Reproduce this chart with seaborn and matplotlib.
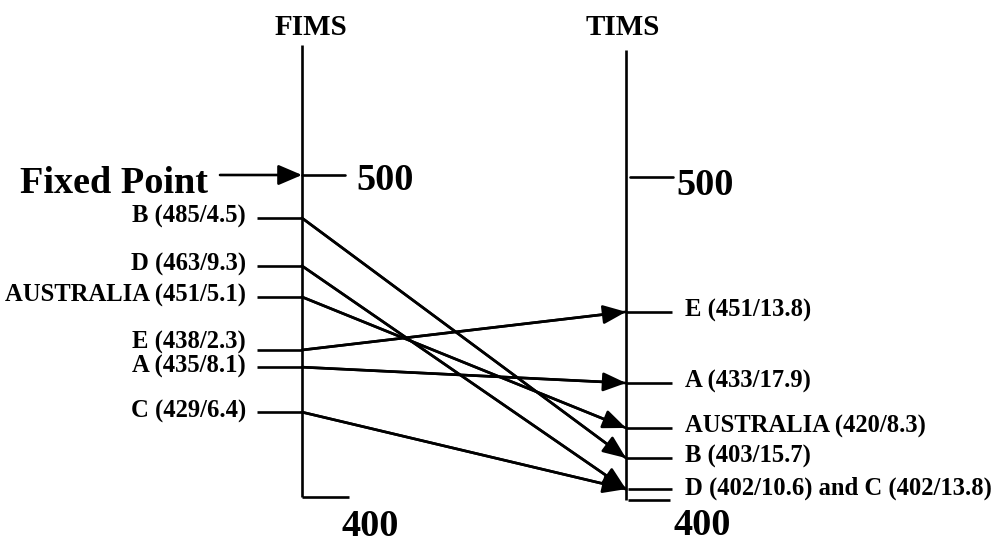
import numpy as np
import pandas as pd
import matplotlib
matplotlib.use("Agg")
import matplotlib.pyplot as plt
import seaborn as sns

# ---------------- data ----------------
countries = ["B", "D", "AUSTRALIA", "E", "A", "C"]
fims_score = [485, 463, 451, 438, 435, 429]
fims_se = [4.5, 9.3, 5.1, 2.3, 8.1, 6.4]
tims_score = [403, 402, 420, 451, 433, 402]
tims_se = [15.7, 10.6, 8.3, 13.8, 17.9, 13.8]
# vertical position of each country on the schematic scale
fims_level = [486.7, 471.9, 462.3, 445.9, 440.6, 426.7]
tims_level = [412.5, 402.9, 421.8, 457.7, 435.7, 402.9]
tests = ["FIMS", "TIMS"]
fixed_point = 500
scale_bottom = 400
fixed_label = "Fixed Point"

# ---------------- layout ----------------
sns.set_theme(style="white")
plt.rcParams["font.family"] = ["Liberation Serif", "DejaVu Serif"]

W, H = 1007, 542
fig = plt.figure(figsize=(W / 100, H / 100), dpi=100)
ax = fig.add_axes([0, 0, 1, 1])
PXX = 324.0   # pixels per x unit (FIMS axis at x=0, TIMS axis at x=1)
PXY = 3.235   # pixels per score unit
X0 = 302
ax.set_xlim(-X0 / PXX, (W - X0) / PXX)
ax.set_ylim(500 - (H - 175) / PXY, 500 + 175 / PXY)
ax.axis("off")


def pxx(px):
    return (px - X0) / PXX


def py(px):
    return 500 - (px - 175) / PXY


def dx(px):
    return px / PXX


def dy(px):
    return px / PXY


LW = 1.9
K = "black"
big = dict(fontsize=27.5, fontweight="bold", color=K)
mid = dict(fontsize=21, fontweight="bold", color=K)
small = dict(fontsize=17.7, fontweight="bold", color=K)

# connecting lines (seaborn)
df = pd.DataFrame({
    "country": countries * 2,
    "x": [0.0] * len(countries) + [1.0] * len(countries),
    "level": fims_level + tims_level,
})
sns.lineplot(data=df, x="x", y="level", units="country", estimator=None,
             color=K, lw=LW, ax=ax, legend=False, sort=False)
for fl, tl in zip(fims_level, tims_level):
    ax.annotate("", xy=(1.0, tl), xytext=(0.0, fl),
                arrowprops=dict(arrowstyle="-|>,head_length=1.4,head_width=0.58",
                                lw=LW, color=K, shrinkA=0, shrinkB=0,
                                mutation_scale=10))

# vertical scales
ax.plot([0, 0], [py(45), py(497)], color=K, lw=LW, solid_capstyle="butt")
ax.plot([0, dx(47)], [py(497), py(497)], color=K, lw=LW, solid_capstyle="butt")
ax.plot([1, 1], [py(50), py(500)], color=K, lw=LW, solid_capstyle="butt")
ax.plot([1 + dx(2), 1 + dx(44)], [py(500), py(500)], color=K, lw=LW, solid_capstyle="butt")

# fixed point
ax.annotate("", xy=(0, fixed_point), xytext=(pxx(220), fixed_point),
            arrowprops=dict(arrowstyle="-|>,head_length=1.45,head_width=0.62",
                            lw=LW, color=K, shrinkA=0, shrinkB=0, mutation_scale=10))
ax.plot([0, dx(43)], [fixed_point, fixed_point], color=K, lw=LW)
ax.plot([1 + dx(4), 1 + dx(47)], [fixed_point - dy(2), fixed_point - dy(2)], color=K, lw=LW)
ax.text(pxx(208), py(193), fixed_label, ha="right", va="baseline", **big)
ax.text(pxx(356), py(190), str(fixed_point), ha="left", va="baseline", **big)
ax.text(pxx(676), py(195), str(fixed_point), ha="left", va="baseline", **big)
ax.text(pxx(341), py(536), str(scale_bottom), ha="left", va="baseline", **big)
ax.text(pxx(674), py(535), str(scale_bottom), ha="left", va="baseline", **big)

# titles
ax.text(pxx(311), py(35), tests[0], ha="center", va="baseline", **mid)
ax.text(pxx(623), py(35), tests[1], ha="center", va="baseline", **mid)

# left labels and ticks
for i, (c, s, e, lv) in enumerate(zip(countries, fims_score, fims_se, fims_level)):
    ax.plot([-dx(45), 0], [lv, lv], color=K, lw=LW, solid_capstyle="butt")
    crowded = any(0 < lv - o < dy(20) for o in fims_level)
    off = dy(1) if crowded else -dy(5)
    ax.text(pxx(246), lv + off, f"{c} ({s}/{e})", ha="right", va="baseline", **small)

# right labels and ticks
groups = {}
for c, s, e, lv in zip(countries, tims_score, tims_se, tims_level):
    groups.setdefault(lv, []).append(f"{c} ({s}/{e})")
for lv, labs in groups.items():
    start = 1 + (dx(2) if len(labs) > 1 else 0)
    ax.plot([start, 1 + dx(46)], [lv, lv], color=K, lw=LW, solid_capstyle="butt")
    ax.text(pxx(685), lv - dy(5), " and ".join(labs), ha="left", va="baseline", **small)

fig.savefig("out.png", dpi=100, facecolor="white")
